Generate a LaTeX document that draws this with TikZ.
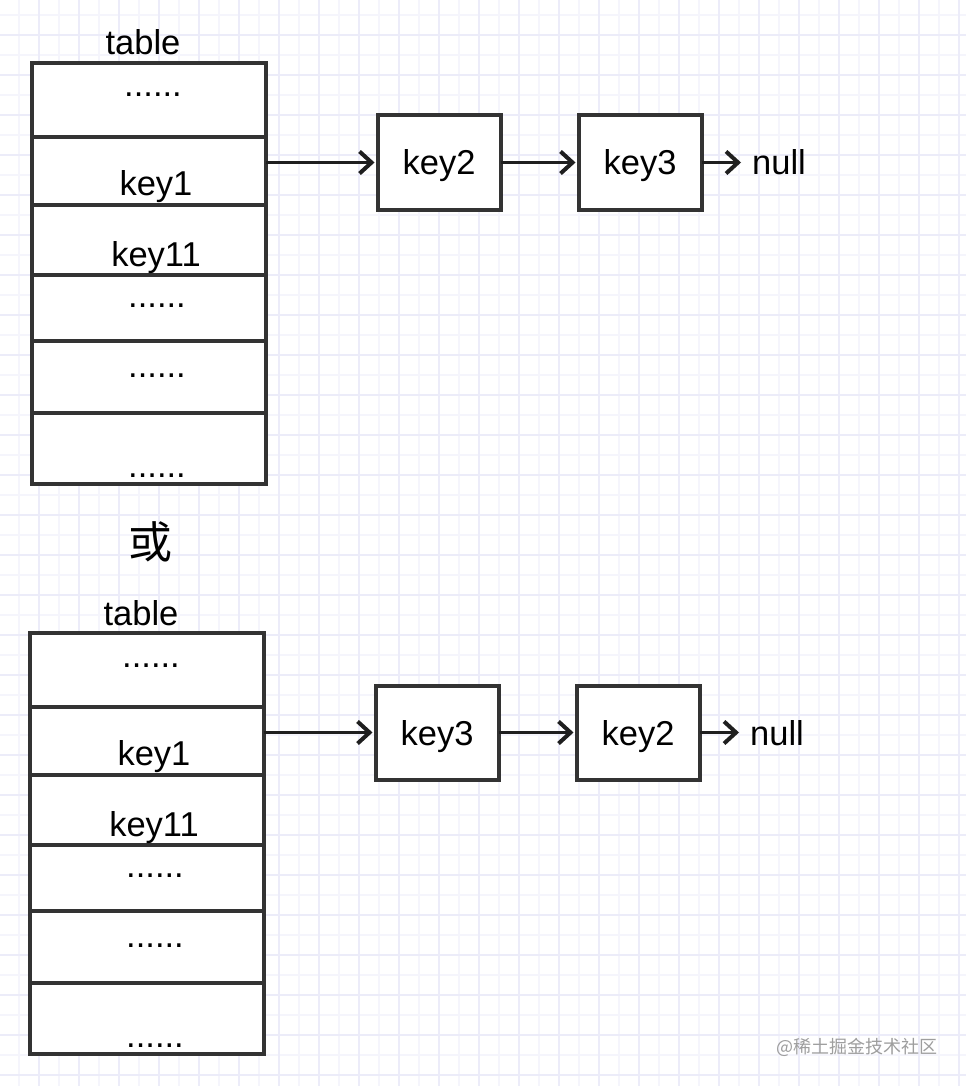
\documentclass[tikz,border=0pt]{standalone}
\usepackage{fontspec}
\setmainfont{Liberation Sans}
\newfontfamily\cjk{Noto Sans CJK SC}
\usetikzlibrary{arrows.meta}
\definecolor{gridminor}{HTML}{F5F5FC}
\definecolor{gridmajor}{HTML}{ECECF9}
\definecolor{edgecol}{HTML}{333333}
\begin{document}
\begin{tikzpicture}[x=1pt,y=-1pt,
  cell/.style={draw=edgecol, line width=3.5pt, fill=white, minimum width=234pt, inner sep=0pt, outer sep=0pt},
  keybox/.style={draw=edgecol, line width=4pt, fill=white, minimum width=123pt, minimum height=94pt, inner sep=0pt, outer sep=0pt, text depth=0pt, font=\fontsize{34.5}{40}\selectfont},
  lbl/.style={anchor=base, inner sep=0pt, font=\fontsize{34.5}{40}\selectfont},
  nullstyle/.style={anchor=base west, inner xsep=8pt, inner ysep=0pt, font=\fontsize{34.5}{40}\selectfont},
  arr/.style={line width=3.5pt, draw=black!88, shorten >=3pt, -{Straight Barb[length=12pt,width=22pt,line width=4pt]}},
]
\useasboundingbox (0,0) rectangle (966,1086);
\fill[white] (0,0) rectangle (966,1086);
% grid
\foreach \x in {19,59,...,959} \draw[gridminor, line width=1.5pt] (\x,0) -- (\x,1086);
\foreach \y in {15,55,...,1085} \draw[gridminor, line width=1.5pt] (0,\y) -- (966,\y);
\foreach \x in {39,79,...,959} \draw[gridmajor, line width=1.5pt] (\x,0) -- (\x,1086);
\foreach \y in {35,75,...,1085} \draw[gridmajor, line width=1.5pt] (0,\y) -- (966,\y);

% ---------- top table ----------
\node[cell, minimum height=74pt] (ta1) at (149,100) {};
\node[cell, minimum height=68pt] (ta2) at (149,171) {};
\node[cell, minimum height=70pt] (ta3) at (149,240) {};
\node[cell, minimum height=66pt] (ta4) at (149,308) {};
\node[cell, minimum height=72pt] (ta5) at (149,377) {};
\node[cell, minimum height=71pt] (ta6) at (149,448.5) {};
\node[lbl] (tatitle) at (143,55) {table};
\node[lbl] (tad1) at (153,97) {......};
\node[lbl] (tak1) at (156,195) {key1};
\node[lbl] (tak11) at (156,266) {key11};
\node[lbl] (tad4) at (157,307) {......};
\node[lbl] (tad5) at (157,377) {......};
\node[lbl] (tad6) at (157,477) {......};

\node[keybox] (ak2) at (439,162.5) {key2};
\node[keybox] (ak3) at (640,162.5) {key3};
\node[nullstyle] (anull) at (744,175) {null};
\draw[arr] (ta2.east |- ak2.west) -- (ak2.west);
\draw[arr] (ak2.east) -- (ak3.west);
\draw[arr] (ak3.east) -- (ak3.east -| anull.west);

% ---------- or ----------
\node[font=\cjk\fontsize{44}{44}\selectfont, inner sep=0pt] (orlabel) at (150,542) {或};

% ---------- bottom table ----------
\node[cell, minimum height=74pt] (tb1) at (147,670) {};
\node[cell, minimum height=68pt] (tb2) at (147,741) {};
\node[cell, minimum height=70pt] (tb3) at (147,810) {};
\node[cell, minimum height=66pt] (tb4) at (147,878) {};
\node[cell, minimum height=72pt] (tb5) at (147,947) {};
\node[cell, minimum height=71pt] (tb6) at (147,1018.5) {};
\node[lbl] (tbtitle) at (141,625) {table};
\node[lbl] (tbd1) at (151,667) {......};
\node[lbl] (tbk1) at (154,765) {key1};
\node[lbl] (tbk11) at (154,836) {key11};
\node[lbl] (tbd4) at (155,877) {......};
\node[lbl] (tbd5) at (155,947) {......};
\node[lbl] (tbd6) at (155,1047) {......};

\node[keybox] (bk3) at (437,732.5) {key3};
\node[keybox] (bk2) at (638,732.5) {key2};
\node[nullstyle] (bnull) at (742,745) {null};
\draw[arr] (tb2.east |- bk3.west) -- (bk3.west);
\draw[arr] (bk3.east) -- (bk2.west);
\draw[arr] (bk2.east) -- (bk2.east -| bnull.west);

% watermark
\node[font=\cjk\fontsize{18}{18}\selectfont, text=black!38, anchor=east, inner sep=0pt] (wm) at (938,1047) {@稀土掘金技术社区};
\end{tikzpicture}
\end{document}
